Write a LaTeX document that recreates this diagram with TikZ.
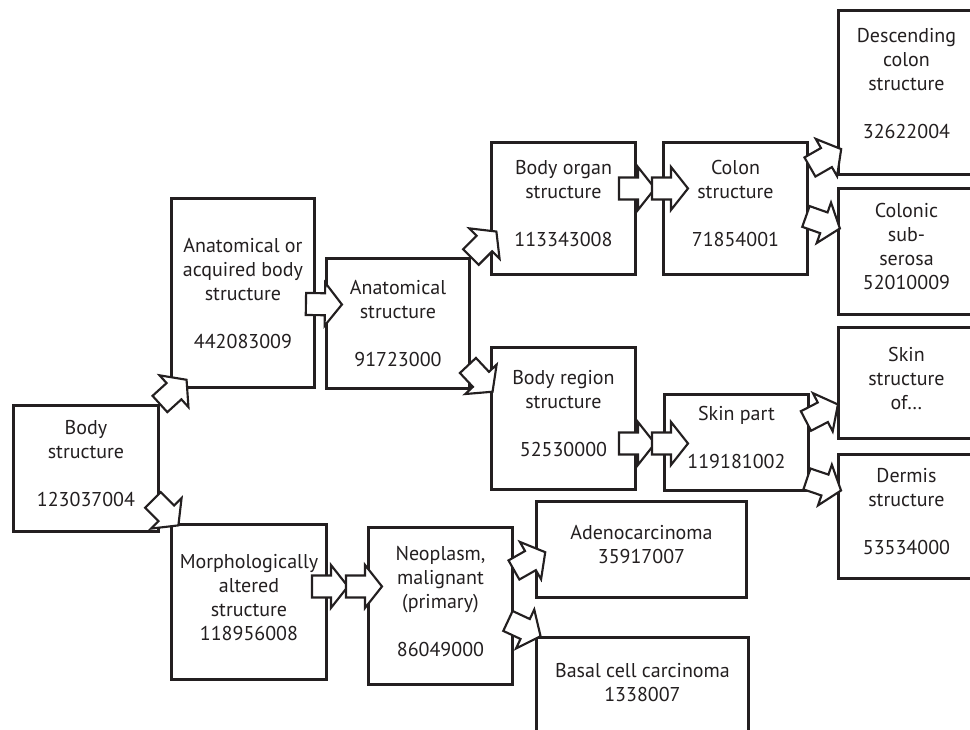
\documentclass[tikz,border=0pt]{standalone}
\usepackage{fontspec}
\setmainfont{PT Sans}
\usepackage{tikz}
\usetikzlibrary{calc}
\definecolor{encre}{RGB}{35,31,32}
\tikzset{
Boite/.style={
 draw=encre,
 line width=2.2pt,
 fill=white,
 text=encre,
 align=center,
 anchor=north west,
 inner sep=0pt,
 text depth=7.5pt,
 font=\fontsize{15}{18}\selectfont
 },
Taille/.style 2 args={
 minimum width=0.75*#1,
 minimum height=0.75*#2
 },
GrosseFleche/.pic={
 \draw[draw=encre, fill=white, line width=1.6pt]
  (0,-11) -- (19,-11) -- (19,-21.5) -- (36,0) -- (19,21.5) -- (19,11) -- (0,11) -- cycle;
 }
}
\newcommand{\Fleche}[2]{%
 \path let \p1=(#1), \p2=(#2), \n1={atan2(\y2-\y1,\x2-\x1)} in
  pic[rotate=\n1] at (\p1) {GrosseFleche};
}

\begin{document}
\begin{tikzpicture}[x=0.75pt,y=-0.75pt]
\useasboundingbox (0,0) rectangle (970,730);
\clip (0,0) rectangle (970,730);
\node[Boite, Taille={145}{126}] (corps) at (12,404) {Body\\structure\\[18pt]123037004};
\node[Boite, Taille={143}{189}, text depth=0pt] (anatacq) at (170,197) {Anatomical or\\acquired body\\structure\\[18pt]442083009};
\node[Boite, Taille={155}{155}] (morpho) at (170,523) {Morphologically\\altered\\structure\\118956008};
\node[Boite, Taille={143}{130}, text depth=0pt] (anat) at (325,257) {Anatomical\\structure\\[18pt]91723000};
\node[Boite, Taille={144}{132}] (organe) at (490,141) {Body organ\\structure\\[18pt]113343008};
\node[Boite, Taille={144}{132}] (colon) at (662,141) {Colon\\structure\\[18pt]71854001};
\node[Boite, Taille={136}{164}, text depth=13.5pt] (desc) at (837,9) {Descending\\colon\\structure\\[18pt]32622004};
\node[Boite, Taille={136}{126}] (sousser) at (837,187) {Colonic\\sub-\\serosa\\52010009};
\node[Boite, Taille={144}{142}] (region) at (490,346) {Body region\\structure\\[18pt]52530000};
\node[Boite, Taille={144}{96}] (peau) at (663,393) {Skin part\\[18pt]119181002};
\node[Boite, Taille={136}{111}] (peaude) at (837,326) {Skin\\structure\\of…};
\node[Boite, Taille={136}{124}] (derme) at (837,453) {Dermis\\structure\\[18pt]53534000};
\node[Boite, Taille={144}{157}] (neo) at (367,526) {Neoplasm,\\malignant\\(primary)\\[18pt]86049000};
\node[Boite, Taille={210}{96}] (adeno) at (535,500) {Adenocarcinoma\\35917007};
\node[Boite, Taille={212}{104}, text depth=10pt] (basal) at (535,636) {Basal cell carcinoma\\1338007};
\Fleche{corps.north east}{$(anatacq.south west)+(12,-5)$}
\Fleche{$(corps.south east)+(-7,-33)$}{$(morpho.north west)+(5,-1)$}
\Fleche{$(anatacq.east)+(-10,11)$}{$(anat.west)+(14,-19)$}
\Fleche{anat.north east}{$(organe.south west)+(3,-41)$}
\Fleche{$(anat.east)+(-3,42)$}{$(region.north west)+(0,43)$}
\Fleche{$(organe.east)+(-18,-20)$}{$(colon.west)+(-10,-20)$}
\Fleche{$(colon.west)+(-10,-20)$}{$(colon.west)+(26,-20)$}
\Fleche{$(colon.north east)+(1,26)$}{$(desc.south west)+(1,-25)$}
\Fleche{$(colon.east)+(-3,8)$}{$(sousser.west)+(0,-24)$}
\Fleche{$(region.east |- peau.west)+(-18,1)$}{$(peau.west)+(-11,1)$}
\Fleche{$(peau.west)+(-11,1)$}{$(peau.west)+(25,1)$}
\Fleche{$(peau.north east)+(-4,28)$}{$(peaude.west)+(-2,23)$}
\Fleche{$(peau.south east)+(-3,-13)$}{$(derme.west)+(1,-27)$}
\Fleche{$(morpho.east)+(-16,-15.5)$}{$(neo.west)+(-21,-19.5)$}
\Fleche{$(neo.west)+(-21,-19.5)$}{$(neo.west)+(15,-19.5)$}
\Fleche{$(neo.east)+(0,-36)$}{$(adeno.west)+(8,4)$}
\Fleche{$(neo.east)+(-6,15)$}{$(basal.north west)+(3,-1)$}
\end{tikzpicture}
\end{document}
